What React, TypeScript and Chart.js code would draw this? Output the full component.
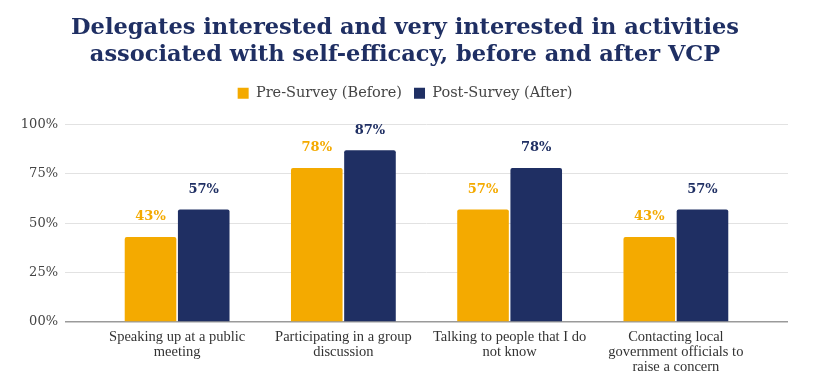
import React, { useEffect, useRef } from "react";
import { Chart, registerables } from "chart.js";

Chart.register(...registerables);

const categories: string[][] = [
  ["Speaking up at a public", "meeting"],
  ["Participating in a group", "discussion"],
  ["Talking to people that I do", "not know"],
  ["Contacting local", "government officials to", "raise a concern"],
];
const preSurvey = [43, 78, 57, 43];
const postSurvey = [57, 87, 78, 57];
const yTicks = [0, 25, 50, 75, 100];
const titleLines = [
  "Delegates interested and very interested in activities",
  "associated with self-efficacy, before and after VCP",
];
const seriesNames = ["Pre-Survey (Before)", "Post-Survey (After)"];

const ORANGE = "#F4AA00";
const NAVY = "#1F2F63";
const SERIF = "'DejaVu Serif', Georgia, serif";
const SERIF2 = "'Liberation Serif', 'Times New Roman', serif";

const labelPlugin = {
  id: "barLabels",
  afterDatasetsDraw(chart: any) {
    const ctx = chart.ctx;
    ctx.save();
    ctx.font = `bold 13px ${SERIF}`;
    ctx.textAlign = "center";
    ctx.textBaseline = "middle";
    chart.data.datasets.forEach((ds: any, i: number) => {
      const meta = chart.getDatasetMeta(i);
      ctx.fillStyle = ds.backgroundColor;
      meta.data.forEach((bar: any, j: number) => {
        ctx.fillText(`${ds.data[j]}%`, bar.x, bar.y - 20);
      });
    });
    ctx.restore();
  },
};

const legendSpacing = {
  id: "legendSpacing",
  beforeInit(chart: any) {
    const orig = chart.legend.fit;
    chart.legend.fit = function () {
      orig.call(this);
      this.height += 14;
    };
  },
};

export default function App() {
  const ref = useRef<HTMLCanvasElement>(null);
  useEffect(() => {
    document.body.style.margin = "0";
    const chart = new Chart(ref.current!, {
      type: "bar",
      data: {
        labels: categories,
        datasets: [
          { label: seriesNames[0], data: preSurvey, backgroundColor: ORANGE, borderRadius: 2 },
          { label: seriesNames[1], data: postSurvey, backgroundColor: NAVY, borderRadius: 2 },
        ],
      },
      options: {
        animation: false,
        responsive: false,
        maintainAspectRatio: false,
        layout: { padding: { left: 22, right: 37, top: 0, bottom: 13 } },
        datasets: { bar: { categoryPercentage: 0.64, barPercentage: 0.97 } },
        plugins: {
          title: {
            display: true,
            text: titleLines,
            color: NAVY,
            font: { family: SERIF, size: 22.5, weight: "bold", lineHeight: "27px" },
            padding: { top: 15, bottom: 5 },
          },
          legend: {
            display: true,
            labels: {
              boxWidth: 11,
              boxHeight: 11,
              color: "#444",
              font: { family: SERIF, size: 14.5 },
              padding: 12,
            },
          },
          tooltip: { enabled: false },
        },
        scales: {
          x: {
            grid: { display: false },
            border: { display: false },
            ticks: {
              color: "#333",
              font: { family: SERIF2, size: 14.5, lineHeight: "15px" },
              maxRotation: 0,
              autoSkip: false,
              padding: 0,
            },
          },
          y: {
            min: 0,
            max: 100,
            afterBuildTicks: (s: any) => {
              s.ticks = yTicks.map((v) => ({ value: v }));
            },
            afterFit: (s: any) => {
              s.width = 72;
            },
            border: { display: false },
            grid: {
              color: (c: any) => (c.tick && c.tick.value === 0 ? "#9a9a9a" : "#e2e2e2"),
              lineWidth: (c: any) => (c.tick && c.tick.value === 0 ? 1.5 : 1),
              tickLength: 29,
            },
            ticks: {
              color: "#444",
              font: { family: SERIF, size: 13 },
              padding: 7,
              callback: (v: any) => (v === 0 ? "00%" : `${v}%`),
            },
          },
          y2: {
            position: "right",
            min: 0,
            max: 100,
            afterBuildTicks: (s: any) => {
              s.ticks = yTicks.map((v) => ({ value: v }));
            },
            afterFit: (s: any) => {
              s.width = 29;
            },
            border: { display: false },
            grid: {
              drawOnChartArea: false,
              color: (c: any) => (c.tick && c.tick.value === 0 ? "#9a9a9a" : "#e2e2e2"),
              lineWidth: (c: any) => (c.tick && c.tick.value === 0 ? 1.5 : 1),
              tickLength: 29,
            },
            ticks: { display: false },
          },
        },
      } as any,
      plugins: [labelPlugin, legendSpacing],
    });
    return () => chart.destroy();
  }, []);
  return (
    <div style={{ width: 825, height: 388 }}>
      <canvas ref={ref} width={825} height={388} />
    </div>
  );
}
